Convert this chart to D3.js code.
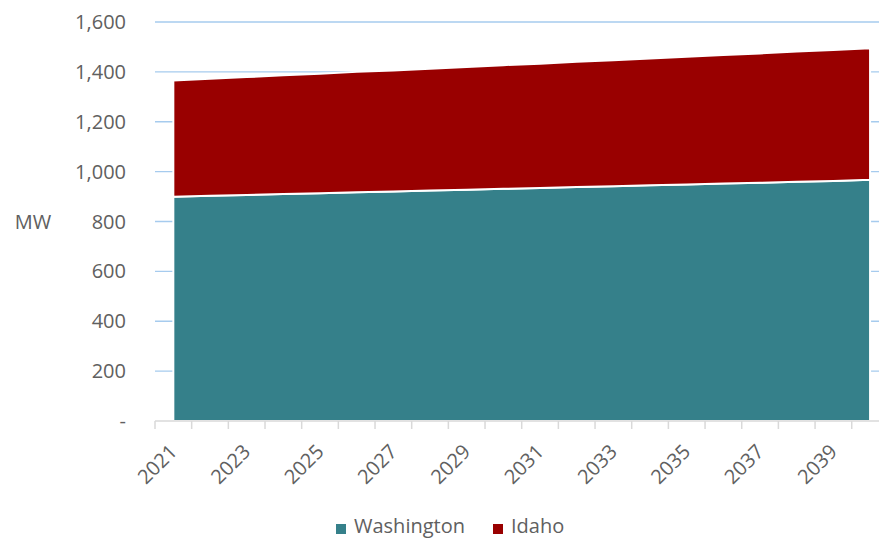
<!DOCTYPE html>
<html>
<head>
<meta charset="utf-8">
<script src="https://cdn.jsdelivr.net/npm/d3@7"></script>
<style>
  html, body { margin: 0; padding: 0; background: #fff; }
  svg { display: block; font-family: "Open Sans", "Noto Sans", sans-serif; }
</style>
</head>
<body>
<svg id="chart" width="879" height="539"></svg>
<script>
// Annual capacity by state, MW
const years = [2021, 2022, 2023, 2024, 2025, 2026, 2027, 2028, 2029, 2030,
               2031, 2032, 2033, 2034, 2035, 2036, 2037, 2038, 2039, 2040];
const washington = [899, 903, 906, 910, 913, 917, 920, 924, 927, 931,
                    934, 938, 941, 945, 948, 952, 955, 959, 962, 967];
const idaho = [466, 469, 473, 476, 479, 483, 486, 489, 493, 496,
               499, 503, 506, 509, 513, 516, 519, 523, 526, 528];
const seriesNames = ["Washington", "Idaho"];
const seriesColors = ["#35808A", "#990000"];
const yTicks = [0, 200, 400, 600, 800, 1000, 1200, 1400, 1600];
const xLabelYears = [2021, 2023, 2025, 2027, 2029, 2031, 2033, 2035, 2037, 2039];
const yAxisTitle = "MW";

const svg = d3.select("#chart");

const plotLeft = 155, bandW = 36.67, plotTop = 22, plotBottom = 421;
const x = d3.scaleLinear()
  .domain([years[0] - 0.5, years[years.length - 1] + 0.5])
  .range([plotLeft, plotLeft + bandW * years.length]);
const y = d3.scaleLinear().domain([0, 1600]).range([plotBottom, plotTop]);

const fmt = d3.format(",");
const textColor = "#606060";

// gridlines
svg.append("g").selectAll("line")
  .data(yTicks.filter(d => d > 0))
  .join("line")
  .attr("x1", plotLeft).attr("x2", 879)
  .attr("y1", d => y(d)).attr("y2", d => y(d))
  .attr("stroke", "#A6CBEE").attr("stroke-width", 1.3);

// y tick labels
svg.append("g").selectAll("text")
  .data(yTicks)
  .join("text")
  .attr("x", 126).attr("y", d => y(d))
  .attr("dy", "0.35em")
  .attr("text-anchor", "end")
  .attr("font-size", 20)
  .attr("fill", textColor)
  .text(d => d === 0 ? "-" : fmt(d));

// axis title
svg.append("text")
  .attr("x", 33).attr("y", y(800)).attr("dy", "0.35em")
  .attr("text-anchor", "middle")
  .attr("font-size", 20).attr("fill", textColor)
  .text(yAxisTitle);

// stacked areas
const table = years.map((yr, i) => ({ year: yr, Washington: washington[i], Idaho: idaho[i] }));
const stacked = d3.stack().keys(seriesNames)(table);
const area = d3.area()
  .x(d => x(d.data.year))
  .y0(d => y(d[0]))
  .y1(d => y(d[1]));

svg.append("g").selectAll("path")
  .data(stacked)
  .join("path")
  .attr("d", area)
  .attr("fill", (d, i) => seriesColors[i])
  .attr("stroke", "#ffffff")
  .attr("stroke-width", 2)
  .attr("stroke-linejoin", "round");

// x axis line and ticks at category boundaries
const axisG = svg.append("g").attr("transform", `translate(0,${plotBottom})`);
const boundaries = d3.range(years.length + 1).map(i => years[0] - 0.5 + i);
axisG.append("line")
  .attr("x1", x.range()[0]).attr("x2", x.range()[1])
  .attr("stroke", "#D9D9D9").attr("stroke-width", 1.5);
axisG.selectAll("line.tick")
  .data(boundaries)
  .join("line").attr("class", "tick")
  .attr("x1", d => x(d)).attr("x2", d => x(d))
  .attr("y1", 0).attr("y2", 8)
  .attr("stroke", "#D9D9D9").attr("stroke-width", 1.5);

// x tick labels, rotated
svg.append("g").selectAll("text")
  .data(xLabelYears)
  .join("text")
  .attr("transform", d => `translate(${x(d) + 5},${plotBottom + 32}) rotate(-45)`)
  .attr("text-anchor", "end")
  .attr("font-size", 20)
  .attr("fill", textColor)
  .text(d => d);

// legend
const legend = svg.append("g");
const legendItems = [
  { name: seriesNames[0], color: seriesColors[0], x: 336 },
  { name: seriesNames[1], color: seriesColors[1], x: 493 }
];
legendItems.forEach(it => {
  legend.append("rect")
    .attr("x", it.x).attr("y", 524).attr("width", 10).attr("height", 10)
    .attr("fill", it.color);
  legend.append("text")
    .attr("x", it.x + 18).attr("y", 533)
    .attr("font-size", 20).attr("fill", textColor)
    .text(it.name);
});
</script>
</body>
</html>
